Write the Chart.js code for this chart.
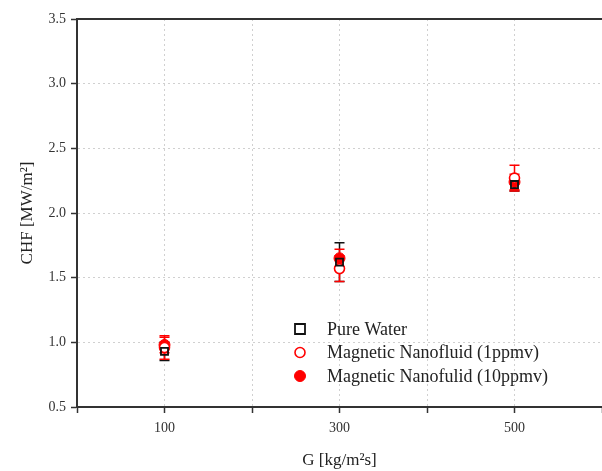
<!DOCTYPE html>
<html>
<head>
  <meta charset="UTF-8">
  <title>CHF vs G</title>
  <style>
    html, body { margin: 0; background: #fff; overflow: hidden; }
    /* plot runs off the right edge like the source figure */
    #wrap { width: 609px; height: 471px; }
  </style>
</head>
<body>
<div id="wrap">
  <canvas id="myChart"></canvas>
</div>
<script src="https://cdn.jsdelivr.net/npm/chart.js"></script>
<script>
// G [kg/m2s]
const massFlux = [100, 300, 500];

// CHF [MW/m2] and error half-widths
const pureWater = [0.93, 1.62, 2.22];
const pureWaterErr = [0.07, 0.15, 0.05];
const nano1 = [0.96, 1.57, 2.27];
const nano1Err = [0.09, 0.10, 0.10];
const nano10 = [0.98, 1.65, 2.24];
const nano10Err = [0.06, 0.07, 0.06];

const xTickLabels = [100, 300, 500];

const FONT = "'Liberation Serif', 'Times New Roman', serif";

function pts(ys) {
  return massFlux.map((x, i) => ({ x: x, y: ys[i] }));
}

const datasets = [
  {
    label: 'Pure Water',
    data: pts(pureWater),
    err: pureWaterErr,
    pointStyle: 'rect',
    pointRadius: 5,
    borderColor: '#111',
    borderWidth: 1.8,
    backgroundColor: 'rgba(0,0,0,0)',
    errColor: '#111'
  },
  {
    label: 'Magnetic Nanofluid (1ppmv)',
    data: pts(nano1),
    err: nano1Err,
    pointStyle: 'circle',
    pointRadius: 5,
    borderColor: '#ff0000',
    borderWidth: 1.6,
    backgroundColor: '#ffffff',
    errColor: '#ff0000'
  },
  {
    label: 'Magnetic Nanofulid (10ppmv)',
    data: pts(nano10),
    err: nano10Err,
    pointStyle: 'circle',
    pointRadius: 5.5,
    borderColor: '#ff0000',
    borderWidth: 1,
    backgroundColor: '#ff0000',
    errColor: '#ff0000'
  }
];

// error bars, drawn with the chart scales
const errorBars = {
  id: 'errorBars',
  beforeDatasetsDraw(chart) {
    const ctx = chart.ctx;
    const xs = chart.scales.x, ys = chart.scales.y;
    ctx.save();
    chart.data.datasets.forEach(ds => {
      ctx.strokeStyle = ds.errColor;
      ctx.lineWidth = 1.5;
      ds.data.forEach((p, i) => {
        const px = xs.getPixelForValue(p.x);
        const top = ys.getPixelForValue(p.y + ds.err[i]);
        const bot = ys.getPixelForValue(p.y - ds.err[i]);
        ctx.beginPath();
        ctx.moveTo(px, top); ctx.lineTo(px, bot);
        ctx.moveTo(px - 5, top); ctx.lineTo(px + 5, top);
        ctx.moveTo(px - 5, bot); ctx.lineTo(px + 5, bot);
        ctx.stroke();
      });
    });
    ctx.restore();
  }
};

// top frame line + legend inside the plot
const extras = {
  id: 'extras',
  afterDraw(chart) {
    const ctx = chart.ctx;
    const a = chart.chartArea;
    ctx.save();
    ctx.strokeStyle = '#333';
    ctx.lineWidth = 2;
    ctx.beginPath();
    ctx.moveTo(a.left - 1, a.top);
    ctx.lineTo(a.right, a.top);
    ctx.stroke();

    const lx = 300, ly = 329, gap = 23.5;
    ctx.font = '18px ' + FONT;
    ctx.textBaseline = 'middle';
    chart.data.datasets.forEach((ds, i) => {
      const y = ly + i * gap;
      ctx.lineWidth = ds.borderWidth;
      ctx.strokeStyle = ds.borderColor;
      ctx.fillStyle = ds.backgroundColor;
      ctx.beginPath();
      if (ds.pointStyle === 'rect') {
        ctx.rect(lx - 5, y - 5, 10, 10);
      } else {
        ctx.arc(lx, y, ds.pointRadius, 0, Math.PI * 2);
      }
      ctx.fill();
      ctx.stroke();
      ctx.fillStyle = '#222';
      ctx.fillText(ds.label, lx + 27, y + 1);
    });
    ctx.restore();
  }
};

const config = {
  type: 'scatter',
  data: { datasets: datasets },
  options: {
    responsive: true,
    maintainAspectRatio: false,
    animation: false,
    layout: { padding: { top: 19, right: 0, left: 0, bottom: 0 } },
    plugins: {
      legend: { display: false },
      tooltip: { enabled: false }
    },
    scales: {
      x: {
        type: 'linear',
        min: 0,
        max: 600,
        afterFit: s => { s.height = 64; },
        ticks: {
          stepSize: 100,
          color: '#333',
          font: { family: FONT, size: 14 },
          padding: 7,
          maxRotation: 0,
          autoSkip: false,
          callback: v => xTickLabels.includes(v) ? String(v) : ''
        },
        grid: {
          color: ctx => (ctx.tick && (ctx.tick.value === 0 || ctx.tick.value === 600)) ? 'rgba(0,0,0,0)' : '#d0d0d0',
          lineWidth: 1,
          tickColor: '#333',
          tickLength: 6,
          tickWidth: 1.5
        },
        border: { display: true, color: '#333', width: 2, dash: [2, 3] },
        title: {
          display: true,
          text: 'G [kg/m²s]',
          color: '#222',
          font: { family: FONT, size: 17 },
          padding: { top: 4, bottom: 0 }
        }
      },
      y: {
        min: 0.5,
        max: 3.5,
        afterFit: s => { s.width = 77; },
        ticks: {
          stepSize: 0.5,
          color: '#333',
          font: { family: FONT, size: 14 },
          padding: 5,
          callback: v => v.toFixed(1)
        },
        grid: {
          color: ctx => (ctx.tick && (ctx.tick.value === 0.5 || ctx.tick.value === 3.5)) ? 'rgba(0,0,0,0)' : '#d0d0d0',
          lineWidth: 1,
          tickColor: '#333',
          tickLength: 6,
          tickWidth: 1.5
        },
        border: { display: true, color: '#333', width: 2, dash: [2, 3] },
        title: {
          display: true,
          text: 'CHF [MW/m²]',
          color: '#222',
          font: { family: FONT, size: 17 },
          padding: { top: 17, bottom: 0 }
        }
      }
    }
  },
  plugins: [errorBars, extras]
};

const myChart = new Chart(document.getElementById('myChart'), config);
</script>
</body>
</html>
